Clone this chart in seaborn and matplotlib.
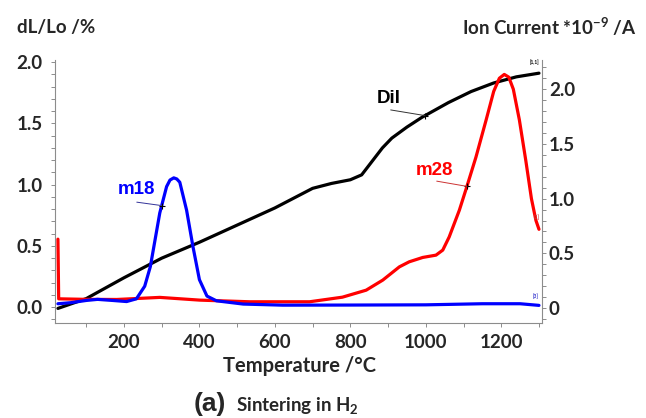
import numpy as np
import pandas as pd
import seaborn as sns
import matplotlib.pyplot as plt
from matplotlib.ticker import MultipleLocator, FixedLocator, FixedFormatter

# dilatometer curve, left axis (dL/Lo in %)
dil_temp = [25, 100, 200, 300, 400, 500, 600, 700, 750, 800, 830, 860, 885,
            910, 950, 990, 1060, 1120, 1180, 1240, 1300]
dil_value = [-0.01, 0.07, 0.24, 0.40, 0.53, 0.67, 0.81, 0.97, 1.01, 1.04, 1.08,
             1.20, 1.30, 1.38, 1.47, 1.55, 1.67, 1.76, 1.83, 1.88, 1.91]

# ion current m18, right axis (*10^-9 A)
m18_temp = [25, 60, 100, 130, 170, 207, 233, 255, 270, 295, 313, 322, 332, 340,
            348, 366, 383, 400, 420, 445, 516, 621, 800, 1000, 1150, 1250, 1300]
m18_value = [0.04, 0.05, 0.07, 0.08, 0.07, 0.06, 0.085, 0.20, 0.38, 0.87, 1.11,
             1.17, 1.19, 1.18, 1.15, 0.895, 0.56, 0.26, 0.11, 0.067, 0.037, 0.027,
             0.028, 0.03, 0.04, 0.04, 0.025]

# ion current m28, right axis
m28_temp = [25, 27, 100, 181, 295, 401, 533, 692, 779, 842, 886, 930, 956, 992,
            1027, 1045, 1062, 1089, 1107, 1133, 1160, 1180, 1195, 1208, 1220,
            1232, 1248, 1265, 1280, 1292, 1300]
m28_value = [0.63, 0.085, 0.08, 0.079, 0.098, 0.073, 0.058, 0.058, 0.10, 0.164,
             0.256, 0.377, 0.423, 0.463, 0.484, 0.53, 0.65, 0.895, 1.09, 1.38,
             1.72, 1.98, 2.10, 2.135, 2.11, 2.0, 1.72, 1.35, 1.0, 0.80, 0.72]

left_ticks = [0.0, 0.5, 1.0, 1.5, 2.0]
right_ticks = [0.0, 0.5, 1.0, 1.5, 2.0]
right_labels = ['0', '0.5', '1.0', '1.5', '2.0']

sns.set_theme(style='white')
plt.rcParams['font.family'] = ['Lato', 'DejaVu Sans']
plt.rcParams['font.weight'] = 'bold'
plt.rcParams['mathtext.fontset'] = 'custom'
plt.rcParams['mathtext.bf'] = 'Lato:bold'
plt.rcParams['mathtext.rm'] = 'Lato:bold'
plt.rcParams['mathtext.default'] = 'bf'

fig = plt.figure(figsize=(6.46, 4.18), dpi=100)
ax = fig.add_axes([0.085, 0.227, 0.754, 0.629])
ax2 = ax.twinx()

dil = pd.DataFrame({'T': dil_temp, 'v': dil_value})
m18 = pd.DataFrame({'T': m18_temp, 'v': m18_value})
m28 = pd.DataFrame({'T': m28_temp, 'v': m28_value})

sns.lineplot(data=dil, x='T', y='v', ax=ax, color='black', linewidth=2.3, sort=False)
sns.lineplot(data=m28, x='T', y='v', ax=ax2, color='#ff0000', linewidth=2.3, sort=False)
sns.lineplot(data=m18, x='T', y='v', ax=ax2, color='#0000ff', linewidth=2.3, sort=False)

ax.set_xlim(17, 1308)
ax.set_ylim(-0.13, 2.016)
ax2.set_ylim(-0.137, 2.265)

spine_col = '#8c8c8c'
for a in (ax, ax2):
    a.spines['top'].set_visible(False)
    for s in ('left', 'right', 'bottom'):
        a.spines[s].set_color(spine_col)
        a.spines[s].set_linewidth(0.8)
    a.set_xlabel('')
    a.set_ylabel('')
ax.spines['right'].set_visible(False)
ax2.spines['left'].set_visible(False)
ax2.spines['bottom'].set_visible(False)

ax.xaxis.set_major_locator(MultipleLocator(200))
ax.xaxis.set_minor_locator(MultipleLocator(100))
ax.yaxis.set_major_locator(FixedLocator(left_ticks))
ax.yaxis.set_minor_locator(MultipleLocator(0.1))
ax.yaxis.set_major_formatter(FixedFormatter(['%.1f' % t for t in left_ticks]))
ax2.yaxis.set_major_locator(FixedLocator(right_ticks))
ax2.yaxis.set_major_formatter(FixedFormatter(right_labels))
ax2.yaxis.set_minor_locator(MultipleLocator(0.1))

ax.tick_params(axis='both', which='both', direction='out', length=3, width=0.7,
               color=spine_col, labelsize=13.5, left=True, bottom=True)
ax.tick_params(axis='y', pad=6)
ax.tick_params(axis='x', pad=5)
ax2.tick_params(axis='y', which='both', direction='out', length=3, width=0.7,
                color=spine_col, labelsize=13.5, right=True, pad=2)
for lab in ax.get_xticklabels() + ax.get_yticklabels() + ax2.get_yticklabels():
    lab.set_fontweight('bold')

# curve labels
def mark(a, temps, vals, t, tx, ty, sx, sy, label, col, line_col):
    py = np.interp(t, temps, vals)
    a.annotate('', xy=(t, py), xytext=(sx, sy),
               arrowprops=dict(arrowstyle='-', color=line_col, lw=0.7,
                               shrinkA=0, shrinkB=0))
    a.plot([t], [py], marker='+', color='black', ms=5, mew=0.8)
    a.text(tx, ty, label, color=col, fontsize=13.5, fontweight='bold',
           family='Liberation Sans', ha='center', va='center')

mark(ax, dil_temp, dil_value, 998, 903, 1.70, 907, 1.61, 'Dil', 'black', '#333333')
mark(ax2, m18_temp, m18_value, 300, 232, 1.087, 234, 0.968, 'm18', '#0000ff', '#333399')
mark(ax2, m28_temp, m28_value, 1109, 1022, 1.26, 1029, 1.16, 'm28', '#ff0000', '#cc3333')

ax.text(1287, 2.0, '[1,1]', fontsize=3.5, color='black', ha='center', va='center')
ax2.text(1293, 0.83, '[2]', fontsize=3.5, color='#cc3333', ha='center', va='center')
ax2.text(1292, 0.11, '[3]', fontsize=3.5, color='#3333cc', ha='center', va='center')

fig.text(0.026, 0.935, 'dL/Lo /%', fontsize=13.5, fontweight='bold', ha='left', va='center')
fig.text(0.986, 0.935, r'Ion Current *10$^{-9}$ /A', fontsize=13.5, fontweight='bold',
         ha='right', va='center')
fig.text(0.464, 0.124, 'Temperature /°C', fontsize=14.5, fontweight='bold',
         ha='center', va='center')
fig.text(0.300, 0.033, '(a)', fontsize=19, fontweight='bold', family='Liberation Sans',
         ha='left', va='center')
fig.text(0.366, 0.031, r'Sintering in H$_2$', fontsize=13.5, fontweight='bold',
         ha='left', va='center')

fig.savefig('out.png', dpi=100)
